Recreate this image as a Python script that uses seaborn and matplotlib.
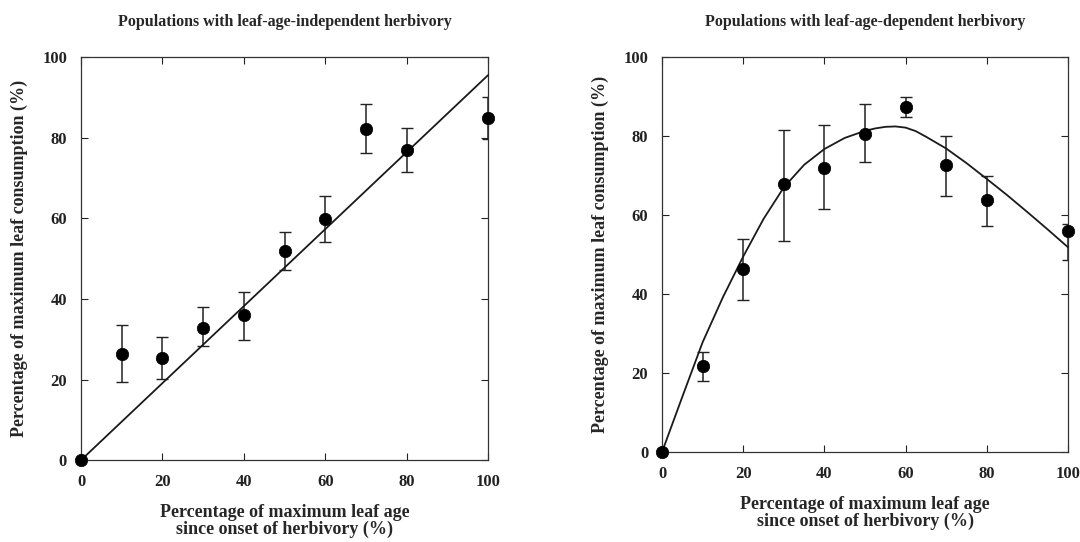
import matplotlib
matplotlib.use("Agg")
import matplotlib.pyplot as plt
import seaborn as sns
import pandas as pd

# ---- data ----
age = [0, 10, 20, 30, 40, 50, 60, 70, 80, 100]

# left panel: leaf-age-independent herbivory
indep_mean = [0, 26.4, 25.4, 32.8, 36.1, 51.9, 59.8, 82.1, 76.9, 84.9]
indep_hi = [0, 33.4, 30.5, 37.9, 41.7, 56.6, 65.5, 88.3, 82.3, 90.1]
indep_lo = [0, 19.4, 20.2, 28.3, 29.9, 47.2, 54.2, 76.1, 71.5, 79.7]
indep_fit_x = [0, 100]
indep_fit_y = [0, 95.5]

# right panel: leaf-age-dependent herbivory
dep_mean = [0, 21.8, 46.3, 67.9, 71.9, 80.5, 87.2, 72.6, 63.8, 55.9]
dep_hi = [0, 25.4, 53.8, 81.5, 82.8, 88.0, 89.9, 80.0, 69.8, 57.8]
dep_lo = [0, 18.1, 38.6, 53.4, 61.6, 73.4, 84.7, 64.8, 57.3, 48.5]
dep_fit_x = [0, 5, 10, 15, 20, 25, 30, 35, 40, 45, 50, 52.5, 55, 57.5, 60, 62.5, 65, 70, 75, 80, 85, 90, 95, 100]
dep_fit_y = [0, 14.0, 27.8, 39.2, 49.5, 59.0, 67.0, 72.7, 76.7, 79.5, 81.3, 81.9, 82.3, 82.4, 82.1, 81.2, 79.8, 76.8, 73.1, 69.1, 65.0, 60.7, 56.3, 51.8]

titles = ["Populations with leaf-age-independent herbivory",
          "Populations with leaf-age-dependent herbivory"]
xlabel = "Percentage of maximum leaf age\nsince onset of herbivory (%)"
ylabel = "Percentage of maximum leaf consumption (%)"
ticks = [0, 20, 40, 60, 80, 100]

sns.set_theme(style="ticks")
plt.rcParams["font.family"] = ["Liberation Serif", "DejaVu Serif"]
plt.rcParams["font.weight"] = "bold"

fig = plt.figure(figsize=(10.8, 5.42), dpi=100)
ax1 = fig.add_axes([0.075, 0.151, 0.377, 0.744])
ax2 = fig.add_axes([0.613, 0.166, 0.376, 0.729])

panels = [
    (ax1, indep_mean, indep_hi, indep_lo, indep_fit_x, indep_fit_y),
    (ax2, dep_mean, dep_hi, dep_lo, dep_fit_x, dep_fit_y),
]

for i, (ax, mean, hi, lo, fx, fy) in enumerate(panels):
    df = pd.DataFrame({"age": age, "mean": mean})
    fit = pd.DataFrame({"x": fx, "y": fy})
    yerr = [[m - l for m, l in zip(mean, lo)], [h - m for h, m in zip(hi, mean)]]
    sub_x = age[1:]
    sub_m = mean[1:]
    sub_err = [yerr[0][1:], yerr[1][1:]]
    ax.errorbar(sub_x, sub_m, yerr=sub_err, fmt="none", ecolor="#222222",
                elinewidth=1.1, capsize=4, capthick=1.0, zorder=2)
    sns.lineplot(data=fit, x="x", y="y", ax=ax, color="#1a1a1a", linewidth=1.3,
                 zorder=3, clip_on=False, solid_joinstyle="round")
    sns.scatterplot(data=df, x="age", y="mean", ax=ax, color="black", s=80,
                    edgecolor="black", linewidth=0.5, zorder=4, clip_on=False)
    ax.set_xlim(0, 100)
    ax.set_ylim(0, 100)
    ax.set_xticks(ticks)
    ax.set_yticks(ticks)
    ax.tick_params(direction="in", length=5, width=0.8, top=True, right=True,
                   labelsize=12, pad=10, colors="#222222")
    for lab in ax.get_xticklabels() + ax.get_yticklabels():
        lab.set_fontweight("bold")
    for sp in ax.spines.values():
        sp.set_visible(True)
        sp.set_linewidth(0.9)
        sp.set_color("#333333")
    ax.set_xlabel(xlabel, fontsize=13, fontweight="bold", labelpad=10, linespacing=1.0)
    ax.set_ylabel(ylabel, fontsize=13, fontweight="bold", labelpad=10)
    ax.set_title(titles[i], fontsize=11.5, fontweight="bold", pad=22)

fig.savefig("out.png", dpi=100, facecolor="white")
